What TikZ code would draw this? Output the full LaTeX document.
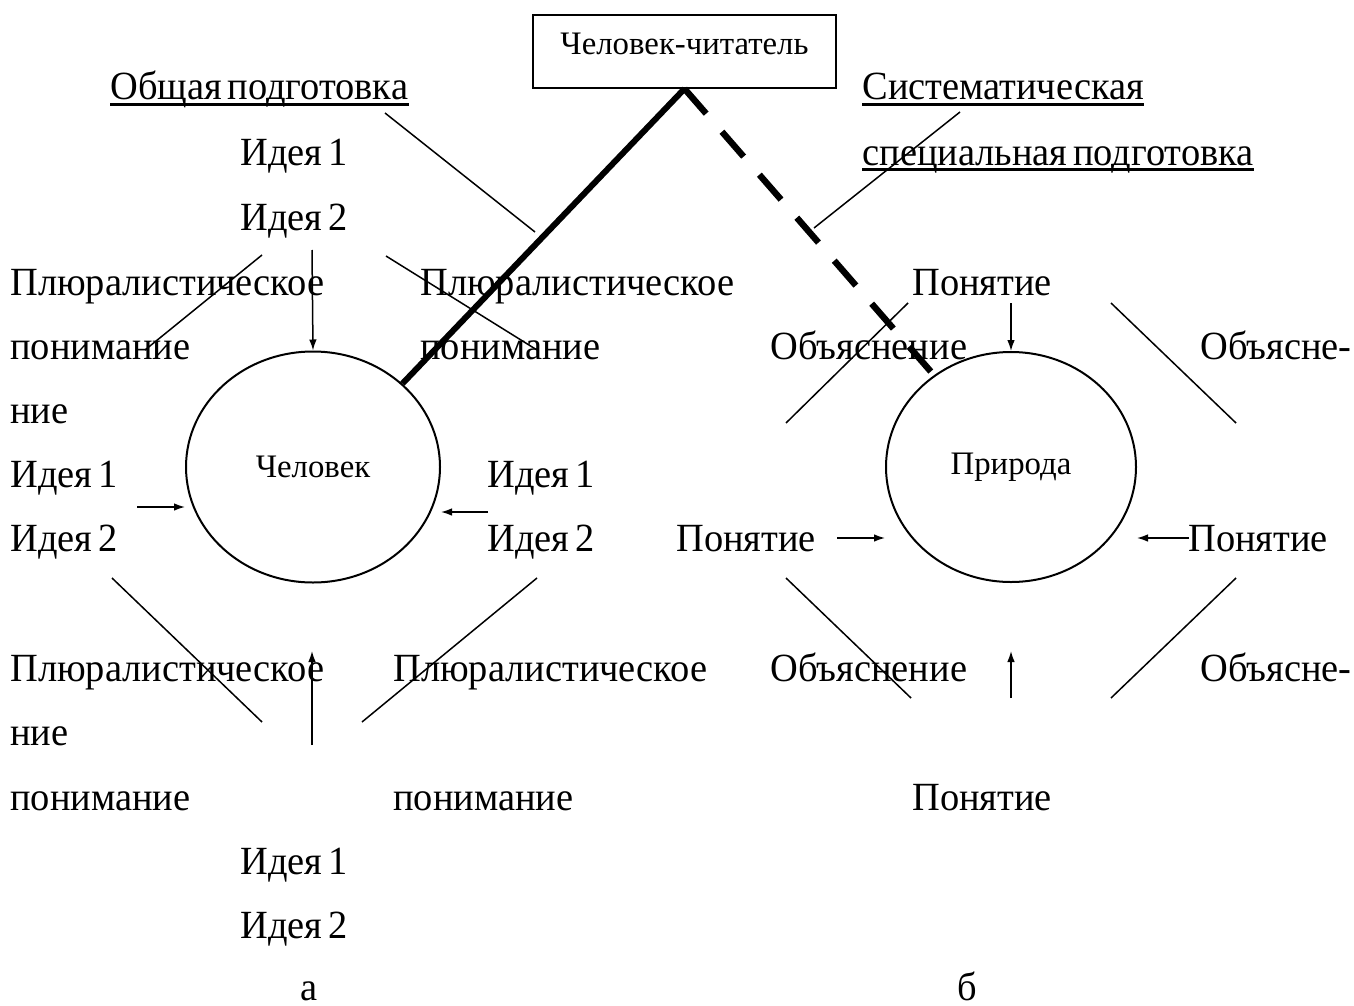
\documentclass[tikz,border=0pt]{standalone}
\usepackage{fontspec}
\setmainfont{Liberation Serif}[FakeStretch=0.96,WordSpace=0.6]
\newfontfamily\smallfont{Liberation Serif}
\usetikzlibrary{shapes.geometric,arrows.meta}
\begin{document}
\begin{tikzpicture}[x=0.5pt,y=-0.5pt,
  lbl/.style={anchor=base west, inner sep=0pt, font=\fontsize{20pt}{24pt}\selectfont},
  small/.style={font=\smallfont\fontsize{16.4pt}{19pt}\selectfont},
  thin/.style={line width=0.75pt},
  arr/.style={line width=0.75pt, -{Latex[length=5.5pt,width=3.8pt]}},
  circ/.style={draw, ellipse, line width=1pt, inner sep=0pt},
  ul/.style={line width=1.2pt}
]
\useasboundingbox (0,0) rectangle (1354,1006);
% labels
\node[lbl] (obsh) at (110,100) {Общая подготовка};
\node[lbl] (sist) at (862,100) {Систематическая};
\node[lbl] (spec) at (862,165) {специальная подготовка};
\draw[ul] ([yshift=-2.25pt]obsh.base west) -- ([yshift=-2.25pt]obsh.base east);
\draw[ul] ([yshift=-2.25pt]sist.base west) -- ([yshift=-2.25pt]sist.base east);
\draw[ul] ([yshift=-2.25pt]spec.base west) -- ([yshift=-2.25pt]spec.base east);
\node[lbl] (i1a) at (240,165) {Идея 1};
\node[lbl] (i2a) at (240,230) {Идея 2};
\node[lbl] (pl1) at (10,295) {Плюралистическое};
\node[lbl] (pl2) at (420,295) {Плюралистическое};
\node[lbl] (pon1) at (912,295) {Понятие};
\node[lbl] (pn1) at (10,359) {понимание};
\node[lbl] (pn2) at (420,359) {понимание};
\node[lbl] (ob1) at (770,359) {Объяснение};
\node[lbl] (ob2) at (1200,359) {Объясне-};
\node[lbl] (nie1) at (10,423) {ние};
\node[lbl] (i1b) at (10,487) {Идея 1};
\node[lbl] (i1c) at (487,487) {Идея 1};
\node[lbl] (i2b) at (10,551) {Идея 2};
\node[lbl] (i2c) at (487,551) {Идея 2};
\node[lbl] (pon2) at (676,551) {Понятие};
\node[lbl] (pon3) at (1188,551) {Понятие};
\node[lbl] (pl3) at (10,681) {Плюралистическое};
\node[lbl] (pl4) at (393,681) {Плюралистическое};
\node[lbl] (ob3) at (770,681) {Объяснение};
\node[lbl] (ob4) at (1200,681) {Объясне-};
\node[lbl] (nie2) at (10,745) {ние};
\node[lbl] (pn3) at (10,810) {понимание};
\node[lbl] (pn4) at (393,810) {понимание};
\node[lbl] (pon4) at (912,810) {Понятие};
\node[lbl] (i1d) at (240,874) {Идея 1};
\node[lbl] (i2d) at (240,938) {Идея 2};
\node[lbl] (la) at (300,1000) {а};
\node[lbl] (lb) at (957,1000) {б};
% ellipses and box
\node[circ, minimum width=127pt, minimum height=115.5pt, small] (chel) at (313,467) {Человек};
\node[circ, minimum width=125pt, minimum height=115pt, small] (prir) at (1011,467) {Природа};
\node[draw, thin, anchor=base, inner sep=0pt, minimum width=151.5pt, text height=20pt, text depth=16.5pt, small] (box) at (684.5,55) {Человек-читатель};
% main connectors
\draw[line width=3pt] (box.south) -- (chel.43);
\draw[line width=3.2pt, dash pattern=on 16.5pt off 12pt] (box.south) -- (prir.130);
% pointer lines
\draw[thin] (385,113) -- (535,232);
\draw[thin] (960,112) -- (814,228);
% left figure
\draw[thin] (262,255) -- (145,350);
\draw[arr] (312,250) -- (chel.north);
\draw[thin] (386,256) -- (537,350);
\draw[arr] (137,507) -- (chel.west |- 0,507);
\draw[arr] (488,512) -- (chel.east |- 0,512);
\draw[thin] (112,578) -- (262,722);
\draw[arr] (312,745) -- (312,651);
\draw[thin] (537,578) -- (362,722);
% right figure
\draw[arr] (1011,303) -- (prir.north);
\draw[thin] (908,303) -- (786,423);
\draw[thin] (1111,303) -- (1236,423);
\draw[arr] (837,538) -- (prir.west |- 0,538);
\draw[arr] (1189,538) -- (prir.east |- 0,538);
\draw[thin] (786,578) -- (911,698);
\draw[arr] (1011,698) -- (1011,651);
\draw[thin] (1236,578) -- (1111,698);
\end{tikzpicture}
\end{document}
